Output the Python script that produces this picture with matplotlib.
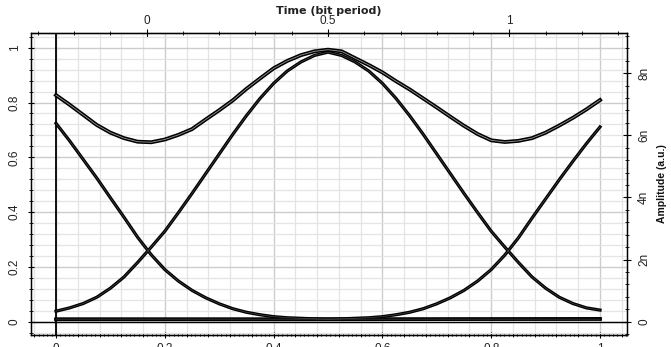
import numpy as np
import matplotlib
matplotlib.use('Agg')
import matplotlib.pyplot as plt
from matplotlib.ticker import MultipleLocator, FixedLocator, FuncFormatter

plt.rcParams['font.family'] = ['Liberation Sans', 'DejaVu Sans']

# sample grid along the bottom axis (0..1 covers -0.25..1.25 bit)
t = np.linspace(0, 1, 41)

# "1 1" pattern trace (upper envelope)
upper = [0.827, 0.792, 0.755, 0.718, 0.690, 0.670, 0.657, 0.655, 0.665, 0.682,
         0.703, 0.738, 0.772, 0.808, 0.850, 0.888, 0.925, 0.952, 0.973, 0.987,
         0.993, 0.987, 0.962, 0.937, 0.910, 0.878, 0.848, 0.815, 0.782, 0.748,
         0.715, 0.685, 0.662, 0.656, 0.660, 0.670, 0.690, 0.716, 0.744, 0.775,
         0.809]
# isolated "1" pulse centred on the bit
pulse = [0.038, 0.050, 0.066, 0.089, 0.122, 0.163, 0.216, 0.272, 0.330, 0.398,
         0.468, 0.540, 0.612, 0.684, 0.752, 0.815, 0.870, 0.915, 0.948, 0.972,
         0.984, 0.972, 0.948, 0.915, 0.870, 0.815, 0.752, 0.684, 0.612, 0.540,
         0.468, 0.398, 0.330, 0.272, 0.216, 0.163, 0.122, 0.089, 0.066, 0.050,
         0.042]
# tail of previous bit
fall = [0.724, 0.660, 0.592, 0.524, 0.452, 0.381, 0.308, 0.244, 0.190, 0.148,
        0.114, 0.087, 0.065, 0.047, 0.034, 0.025, 0.018, 0.014, 0.012, 0.010,
        0.009, 0.009, 0.009, 0.009, 0.009, 0.009, 0.009, 0.009, 0.009, 0.009,
        0.009, 0.009, 0.009, 0.009, 0.009, 0.009, 0.009, 0.009, 0.009, 0.009,
        0.009]
# head of next bit
rise = [0.009, 0.009, 0.009, 0.009, 0.009, 0.009, 0.009, 0.009, 0.009, 0.009,
        0.009, 0.009, 0.009, 0.009, 0.009, 0.009, 0.009, 0.009, 0.009, 0.009,
        0.009, 0.010, 0.012, 0.014, 0.018, 0.025, 0.034, 0.047, 0.065, 0.087,
        0.114, 0.148, 0.190, 0.243, 0.306, 0.378, 0.448, 0.518, 0.585, 0.650,
        0.711]
# "0" level
zero_t = [0, 0.25, 0.5, 0.75, 1.0]
zero_v = [0.008, 0.008, 0.008, 0.009, 0.010]

left_ticks = [0, 0.2, 0.4, 0.6, 0.8, 1]
right_ticks = [0, 2, 4, 6, 8]
right_labels = ['0', '2n', '4n', '6n', '8n']
top_ticks = [0, 0.5, 1]

W, H = 671, 347
fig = plt.figure(figsize=(W / 100, H / 100), dpi=100)
ax = fig.add_axes([31 / W, 12 / H, 596 / W, 302 / H])
xmin, xmax = -0.046, 1.0496
ax.set_xlim(xmin, xmax)
ax.set_ylim(-0.049, 1.054)

# grid
ax.xaxis.set_major_locator(MultipleLocator(0.2))
ax.xaxis.set_minor_locator(MultipleLocator(0.04))
ax.yaxis.set_major_locator(FixedLocator(left_ticks))
ax.yaxis.set_minor_locator(MultipleLocator(0.04))
ax.grid(which='major', color='#cccccc', lw=1.0)
ax.grid(which='minor', color='#e4e4e4', lw=0.9)
ax.set_axisbelow(True)

ax.axhline(0, color='black', lw=1.0, zorder=2)
ax.axvline(0, color='black', lw=1.3, zorder=2)

# traces
ax.plot(t, upper, color='black', lw=2.8, zorder=3)
ax.plot(t, upper, color='white', lw=0.6, alpha=0.6, zorder=4)
for ys in (pulse, fall, rise):
    ax.plot(t, ys, color='black', lw=2.3, zorder=3)
    ax.plot(t, ys, color='#888888', lw=0.4, alpha=0.6, zorder=4)
ax.plot(zero_t, zero_v, color='black', lw=2.6, zorder=3)

for s in ax.spines.values():
    s.set_color('black')
    s.set_linewidth(1.0)

fmt = FuncFormatter(lambda v, p: '0' if abs(v) < 1e-9 else ('1' if abs(v - 1) < 1e-9 else f'{v:.1f}'))
ax.xaxis.set_major_formatter(fmt)
ax.yaxis.set_major_formatter(fmt)
ax.tick_params(which='both', direction='inout', colors='black', labelcolor='#222222', labelsize=8.5)
ax.tick_params(which='major', length=5)
ax.tick_params(which='minor', length=3)
ax.tick_params(axis='x', pad=3)
ax.tick_params(axis='y', labelrotation=90, pad=5)
for lbl in ax.get_yticklabels():
    lbl.set_va('center')

# dense dotted ticks on the bottom axis
sb = ax.secondary_xaxis('bottom')
sb.xaxis.set_major_locator(MultipleLocator(0.008))
sb.tick_params(direction='inout', length=2, labelbottom=False, width=0.8)

# tick marks on the inner axis line at t = 0
loc = (0 - xmin) / (xmax - xmin)
sy = ax.secondary_yaxis(loc)
sy.yaxis.set_major_locator(MultipleLocator(0.04))
sy.tick_params(direction='in', length=2.5, labelleft=False, width=0.8)
sy.spines['left'].set_visible(False)

# top axis in bit periods
top = ax.secondary_xaxis('top', functions=(lambda x: -0.25 + 1.5 * x, lambda b: (b + 0.25) / 1.5))
top.xaxis.set_major_locator(FixedLocator(top_ticks))
top.xaxis.set_minor_locator(MultipleLocator(0.1))
top.xaxis.set_major_formatter(FuncFormatter(lambda v, p: f'{v:g}'))
top.tick_params(which='both', direction='inout', labelsize=8.5, labelcolor='#222222', pad=1)
top.tick_params(which='major', length=6)
top.tick_params(which='minor', length=3)
top.set_xlabel('Time (bit period)', fontsize=8, fontweight='bold', color='#222222',
               family='DejaVu Sans', labelpad=1)

# right amplitude axis
ax2 = ax.twinx()
ax2.set_ylim(-0.43, 9.29)
ax2.yaxis.set_major_locator(FixedLocator(right_ticks))
ax2.yaxis.set_major_formatter(FuncFormatter(lambda v, p: right_labels[p] if p < len(right_labels) else ''))
ax2.yaxis.set_minor_locator(MultipleLocator(0.4))
ax2.tick_params(which='both', direction='inout', labelsize=8.5, labelcolor='#222222', labelrotation=90, pad=5)
ax2.tick_params(which='major', length=6)
ax2.tick_params(which='minor', length=3)
for lbl in ax2.get_yticklabels():
    lbl.set_va('center')
ax2.set_ylabel('Amplitude (a.u.)', fontsize=7.5, fontweight='bold', color='#111111', labelpad=5)

fig.savefig('out.png', dpi=100)
